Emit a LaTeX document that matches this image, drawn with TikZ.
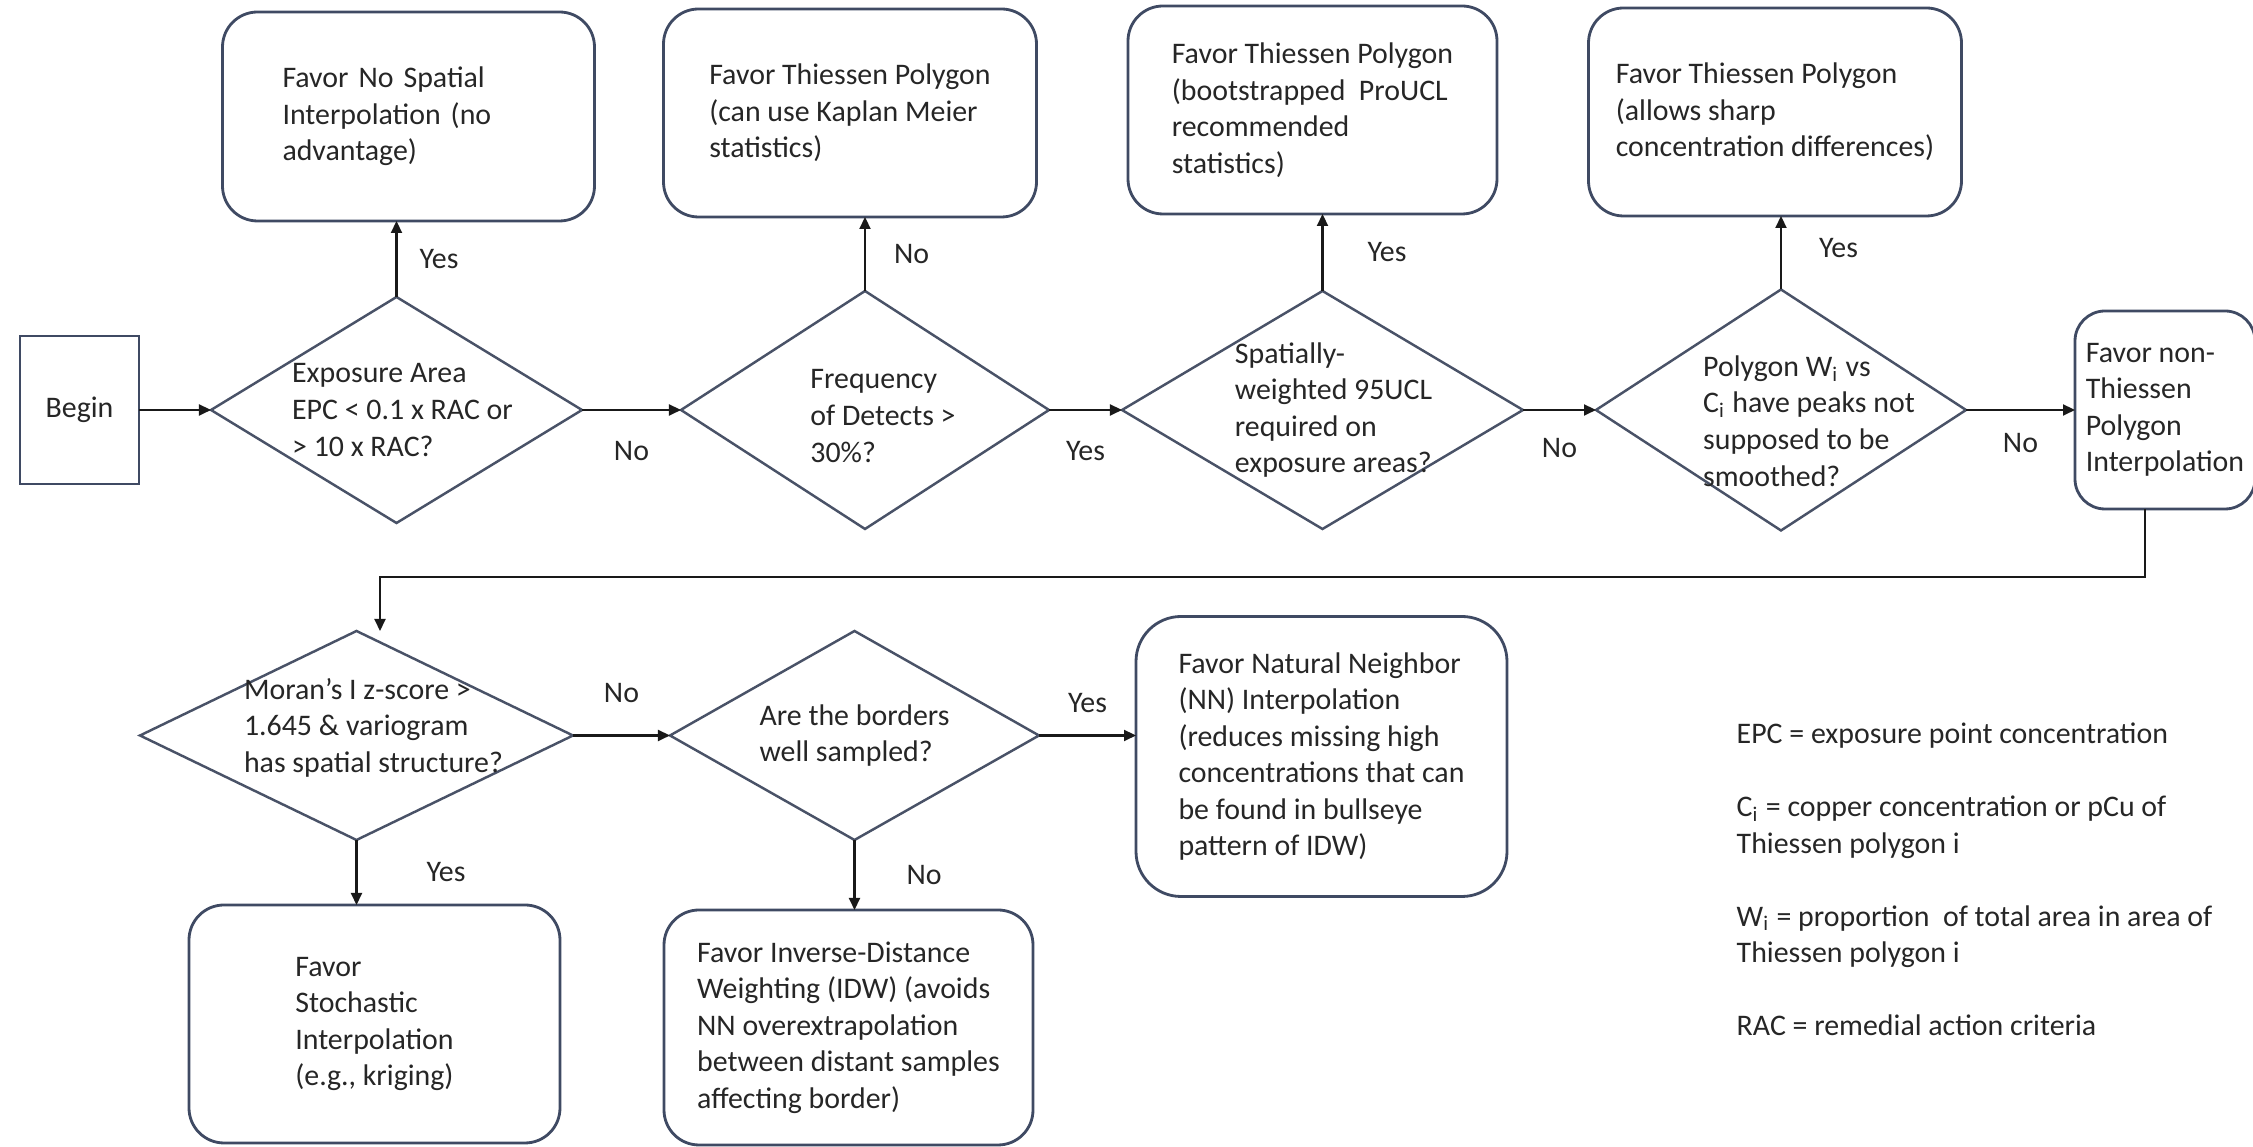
\documentclass[tikz,border=0pt]{standalone}
\usepackage{fontspec}
\setmainfont{Carlito}
\usepackage{tikz}
\usetikzlibrary{positioning,arrows.meta,shapes.geometric}
\definecolor{edge}{HTML}{3F4A63}
\definecolor{ink}{HTML}{262626}

\begin{document}
\begin{tikzpicture}[
    font=\fontsize{8.5}{10.4}\selectfont,
    text=ink,
    startbox/.style={draw=edge, line width=0.8pt, minimum width=1.19cm, minimum height=1.48cm, inner sep=0pt, outer sep=0pt},
    outbox/.style={draw=edge, line width=0.8pt, rounded corners=3.5mm, align=left, inner sep=0pt, outer sep=0pt},
    decision/.style={diamond, draw=edge!85!gray, line width=0.7pt, inner sep=0pt, outer sep=0pt},
    qtext/.style={align=left, inner sep=0pt},
    arr/.style={-{Triangle[length=1.2mm, width=1.1mm]}, line width=0.6pt, draw=black!90},
    lbl/.style={inner sep=0pt}
]
    \useasboundingbox (0,0) rectangle (22.53,-11.47);

    % main row
    \node[startbox] (begin) at (0.795,-4.10) {Begin};
    \node[decision, minimum width=3.71cm, minimum height=2.26cm, right=0.72cm of begin] (d1) {};
    \node[decision, minimum width=3.68cm, minimum height=2.38cm, right=0.99cm of d1] (d2) {};
    \node[decision, minimum width=4.01cm, minimum height=2.38cm, right=0.73cm of d2] (d3) {};
    \node[decision, minimum width=3.70cm, minimum height=2.41cm, right=0.73cm of d3] (d4) {};
    \node[outbox, minimum width=1.80cm, minimum height=1.98cm, rounded corners=3mm, right=1.09cm of d4] (nonthiessen) {Favor non-\\Thiessen\\Polygon\\Interpolation};

    \node[qtext, xshift=0.06cm] (d1t) at (d1) {Exposure Area\\EPC < 0.1 x RAC or\\> 10 x RAC?};
    \node[qtext, xshift=0.18cm, yshift=-0.06cm] (d2t) at (d2) {Frequency\\of Detects >\\30\%?};
    \node[qtext, xshift=0.11cm] (d3t) at (d3) {Spatially-\\weighted 95UCL\\required on\\exposure areas?};
    \node[qtext, xshift=0.28cm, yshift=-0.11cm] (d4t) at (d4) {Polygon W\textsubscript{i} vs\\C\textsubscript{i} have peaks not\\supposed to be\\smoothed?};

    % outcomes above
    \node[outbox, text width=2.52cm, minimum width=3.72cm, minimum height=2.09cm, above=0.76cm of d1, xshift=0.12cm] (nospatial) {Favor No Spatial\\Interpolation (no\\advantage)};
    \node[outbox, minimum width=3.73cm, minimum height=2.08cm, above=0.74cm of d2, xshift=-0.15cm] (kaplan) {Favor Thiessen Polygon\\(can use Kaplan Meier\\statistics)};
    \node[outbox, minimum width=3.69cm, minimum height=2.08cm, above=0.77cm of d3, xshift=-0.10cm] (proucl) {Favor Thiessen Polygon\\(bootstrapped~ ProUCL\\recommended\\statistics)};
    \node[outbox, minimum width=3.73cm, minimum height=2.08cm, above=0.735cm of d4, xshift=-0.06cm] (sharp) {Favor Thiessen Polygon\\(allows sharp\\concentration differences)};

    % second row
    \coordinate (ret) at (3.80,-5.77);
    \node[decision, minimum width=4.33cm, minimum height=2.09cm, below=1.08cm of d1, xshift=-0.40cm] (d6) {};
    \node[qtext, xshift=0.17cm, yshift=0.08cm] (d6t) at (d6) {Moran’s I z-score >\\1.645 \& variogram\\has spatial structure?};
    \node[decision, minimum width=3.69cm, minimum height=2.09cm, right=0.97cm of d6] (d7) {};
    \node[qtext] (d7t) at (d7) {Are the borders\\well sampled?};
    \node[outbox, minimum width=3.71cm, minimum height=2.80cm, rounded corners=4.5mm, right=0.97cm of d7, yshift=-0.21cm] (natneigh) {Favor Natural Neighbor\\(NN) Interpolation\\(reduces missing high\\concentrations that can\\be found in bullseye\\pattern of IDW)};
    \node[outbox, minimum width=3.71cm, minimum height=2.38cm, below=0.65cm of d6, xshift=0.18cm] (kriging) {Favor\\Stochastic\\Interpolation\\(e.g., kriging)};
    \node[outbox, minimum width=3.69cm, minimum height=2.35cm, below=0.70cm of d7, xshift=-0.06cm] (idw) {Favor Inverse-Distance\\Weighting (IDW) (avoids\\NN overextrapolation\\between distant samples\\affecting border)};

    \node[qtext, anchor=north west] (legend) at (17.36,-7.22) {EPC = exposure point concentration\\[10.4pt]C\textsubscript{i} = copper concentration or pCu of\\Thiessen polygon i\\[10.4pt]W\textsubscript{i} = proportion~ of total area in area of\\Thiessen polygon i\\[10.4pt]RAC = remedial action criteria};

    % connectors
    \draw[arr] (begin) -- (d1);
    \draw[arr] (d1) -- (d2) node[lbl, midway, below=0.30cm] {No};
    \draw[arr] (d2) -- (d3) node[lbl, midway, below=0.30cm] {Yes};
    \draw[arr] (d3) -- (d4) node[lbl, midway, below=0.27cm] {No};
    \draw[arr] (d4) -- (nonthiessen) node[lbl, midway, below=0.22cm] {No};

    \draw[arr] (d1.north) -- (d1.north |- nospatial.south) node[lbl, midway, right=0.22cm] {Yes};
    \draw[arr] (d2.north) -- (d2.north |- kaplan.south) node[lbl, midway, right=0.28cm] {No};
    \draw[arr] (d3.north) -- (d3.north |- proucl.south) node[lbl, midway, right=0.44cm] {Yes};
    \draw[arr] (d4.north) -- (d4.north |- sharp.south) node[lbl, midway, right=0.37cm, yshift=0.05cm] {Yes};

    \draw[arr] ([xshift=-2mm]nonthiessen.south) |- (ret) -- (ret |- d6.north);

    \draw[arr] (d6) -- (d7) node[lbl, midway, above=0.32cm] {No};
    \draw[arr] (d6.south) -- (d6.south |- kriging.north) node[lbl, midway, right=0.69cm] {Yes};
    \draw[arr] (d7.east) -- (d7.east -| natneigh.west) node[lbl, midway, above=0.22cm] {Yes};
    \draw[arr] (d7.south) -- (d7.south |- idw.north) node[lbl, midway, right=0.51cm] {No};
\end{tikzpicture}
\end{document}
